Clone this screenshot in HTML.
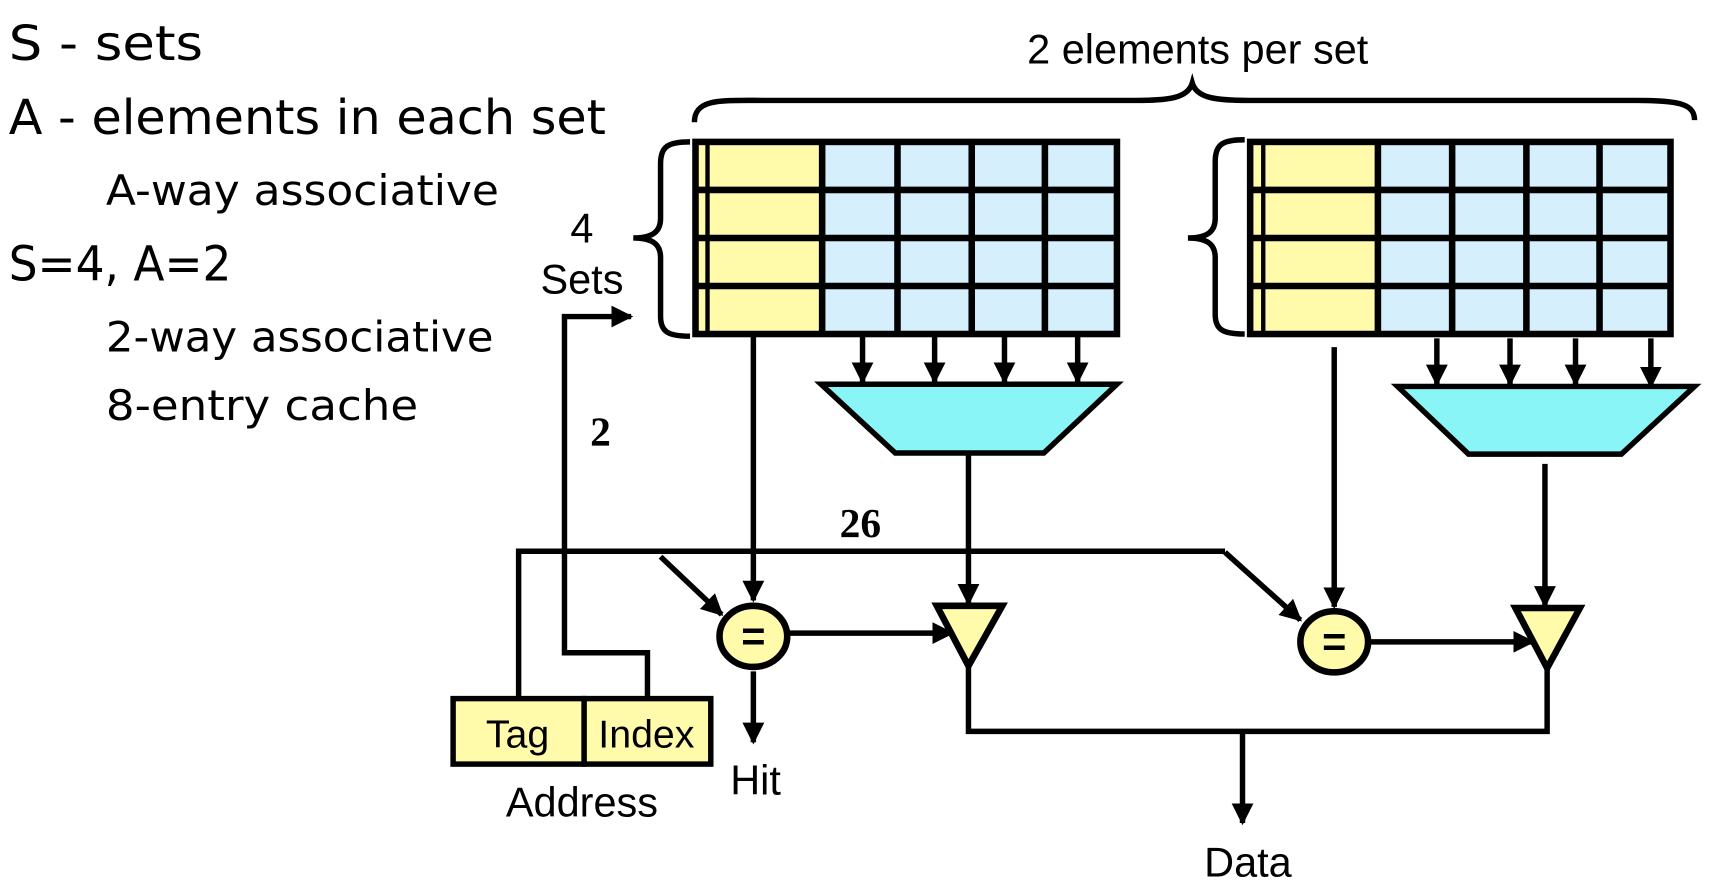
<!DOCTYPE html>
<html><head><meta charset="utf-8"><style>
html,body{margin:0;padding:0;background:#fff;}
svg{display:block;}
.c{font-family:"DejaVu Sans","Liberation Sans",sans-serif;}
.a{font-family:"Liberation Sans",sans-serif;}
.b{font-family:"Liberation Serif",serif;font-weight:bold;}
</style></head><body>
<svg width="1712" height="894" viewBox="0 0 1568 819" preserveAspectRatio="none" xmlns="http://www.w3.org/2000/svg">
<defs>
<marker id="ar" viewBox="0 0 10 10" refX="9" refY="5" markerWidth="4" markerHeight="4" orient="auto" markerUnits="strokeWidth"><path d="M0,0L10,5L0,10z" fill="#000"/></marker>
</defs>
<rect width="1568" height="819" fill="#fff"/>
<g class="c" fill="#000">
<text x="8" y="55" font-size="44" textLength="178" lengthAdjust="spacingAndGlyphs">S - sets</text>
<text x="8" y="123" font-size="44" textLength="547" lengthAdjust="spacingAndGlyphs">A - elements in each set</text>
<text x="97" y="188" font-size="38" textLength="360" lengthAdjust="spacingAndGlyphs">A-way associative</text>
<text x="8" y="257" font-size="44" textLength="204" lengthAdjust="spacingAndGlyphs">S=4, A=2</text>
<text x="97" y="322" font-size="38" textLength="355" lengthAdjust="spacingAndGlyphs">2-way associative</text>
<text x="97" y="385" font-size="38" textLength="286" lengthAdjust="spacingAndGlyphs">8-entry cache</text>
</g>
<g class="a" fill="#000" text-anchor="middle">
<text x="1097" y="58" font-size="38">2 elements per set</text>
<text x="533" y="222" font-size="38">4</text>
<text x="533" y="269" font-size="38">Sets</text>
<text x="533" y="748" font-size="38">Address</text>
<text x="692" y="728" font-size="38">Hit</text>
<text x="1143" y="803" font-size="38">Data</text>
</g>
<g class="b" fill="#000" text-anchor="middle">
<text x="550" y="408" font-size="38">2</text>
<text x="788" y="492" font-size="38">26</text>
</g>
<g fill="none" stroke="#000" stroke-width="5">
<path d="M636,112 C636,90 660,92 700,92 L1040,92 C1070,92 1088,90 1092,76 C1096,90 1114,92 1144,92 L1500,92 C1540,92 1552,96 1552,110"/>
<path d="M632,130 C612,130 605,134 605,150 L605,200 C605,212 598,218 580,218 C598,218 605,224 605,236 L605,290 C605,304 612,308 632,308"/>
<path d="M1140,128 C1120,128 1113,132 1113,148 L1113,200 C1113,212 1106,218 1088,218 C1106,218 1113,224 1113,236 L1113,288 C1113,302 1120,306 1140,306"/>
</g>
<rect x="637" y="130" width="116" height="176" fill="#fffbaa"/>
<rect x="753" y="130" width="270" height="176" fill="#d5effc"/>
<g stroke="#000" stroke-width="6" fill="none">
<rect x="637" y="130" width="386" height="176"/>
<line x1="637" y1="174" x2="1023" y2="174"/><line x1="637" y1="218" x2="1023" y2="218"/><line x1="637" y1="262" x2="1023" y2="262"/>
<line x1="753" y1="130" x2="753" y2="306"/><line x1="822" y1="130" x2="822" y2="306"/><line x1="890" y1="130" x2="890" y2="306"/><line x1="957" y1="130" x2="957" y2="306"/>
<line x1="648" y1="130" x2="648" y2="306" stroke-width="4"/>
</g>
<rect x="1145" y="130" width="116" height="176" fill="#fffbaa"/>
<rect x="1262" y="130" width="268" height="176" fill="#d5effc"/>
<g stroke="#000" stroke-width="6" fill="none">
<rect x="1145" y="130" width="385" height="176"/>
<line x1="1145" y1="174" x2="1530" y2="174"/><line x1="1145" y1="218" x2="1530" y2="218"/><line x1="1145" y1="262" x2="1530" y2="262"/>
<line x1="1262" y1="130" x2="1262" y2="306"/><line x1="1330" y1="130" x2="1330" y2="306"/><line x1="1398" y1="130" x2="1398" y2="306"/><line x1="1465" y1="130" x2="1465" y2="306"/>
<line x1="1157" y1="130" x2="1157" y2="306" stroke-width="4"/>
</g>
<polygon points="752,352 1023,352 956,415 820,415" fill="#8af5f7" stroke="#000" stroke-width="5"/>
<polygon points="1280,354 1552,354 1485,416 1345,416" fill="#8af5f7" stroke="#000" stroke-width="5"/>
<g stroke="#000" stroke-width="5" fill="none" marker-end="url(#ar)">
<line x1="790" y1="308" x2="790" y2="350"/><line x1="856" y1="308" x2="856" y2="350"/><line x1="920" y1="308" x2="920" y2="350"/><line x1="987" y1="308" x2="987" y2="350"/>
<line x1="1316" y1="310" x2="1316" y2="352"/><line x1="1383" y1="310" x2="1383" y2="352"/><line x1="1443" y1="310" x2="1443" y2="352"/><line x1="1512" y1="310" x2="1512" y2="354"/>
<line x1="690" y1="308" x2="690" y2="550"/>
<line x1="1222" y1="318" x2="1222" y2="556"/>
<line x1="887" y1="417" x2="887" y2="553"/>
<line x1="1415" y1="425" x2="1415" y2="555"/>
<line x1="722" y1="580" x2="872" y2="580"/>
<line x1="1255" y1="588" x2="1404" y2="588"/>
<line x1="605" y1="510" x2="661" y2="563"/>
<line x1="1122" y1="506" x2="1191" y2="568"/>
<polyline points="593,638 593,598 517,598 517,290 578,290"/>
<line x1="690" y1="615" x2="690" y2="680"/>
<line x1="1138" y1="672" x2="1138" y2="754"/>
</g>
<g stroke="#000" stroke-width="5" fill="none">
<polyline points="475,638 475,505 1122,505"/>
<polyline points="887,610 887,670 1417,670 1417,612"/>
</g>
<ellipse cx="690" cy="583" rx="31" ry="28" fill="#fffbaa" stroke="#000" stroke-width="6"/>
<text x="690" y="596" text-anchor="middle" class="a" font-size="38" font-weight="bold">=</text>
<ellipse cx="1222" cy="588" rx="31" ry="28" fill="#fffbaa" stroke="#000" stroke-width="6"/>
<text x="1222" y="601" text-anchor="middle" class="a" font-size="38" font-weight="bold">=</text>
<polygon points="858,555 918,555 887,610" fill="#fffbaa" stroke="#000" stroke-width="6"/>
<polygon points="1388,557 1447,557 1417,612" fill="#fffbaa" stroke="#000" stroke-width="6"/>
<rect x="415" y="640" width="120" height="60" fill="#fffbaa" stroke="#000" stroke-width="5"/>
<rect x="535" y="640" width="116" height="60" fill="#fffbaa" stroke="#000" stroke-width="5"/>
<g class="a" font-size="36" text-anchor="middle" fill="#000">
<text x="474" y="685">Tag</text>
<text x="592" y="685">Index</text>
</g>
</svg>
</body></html>
